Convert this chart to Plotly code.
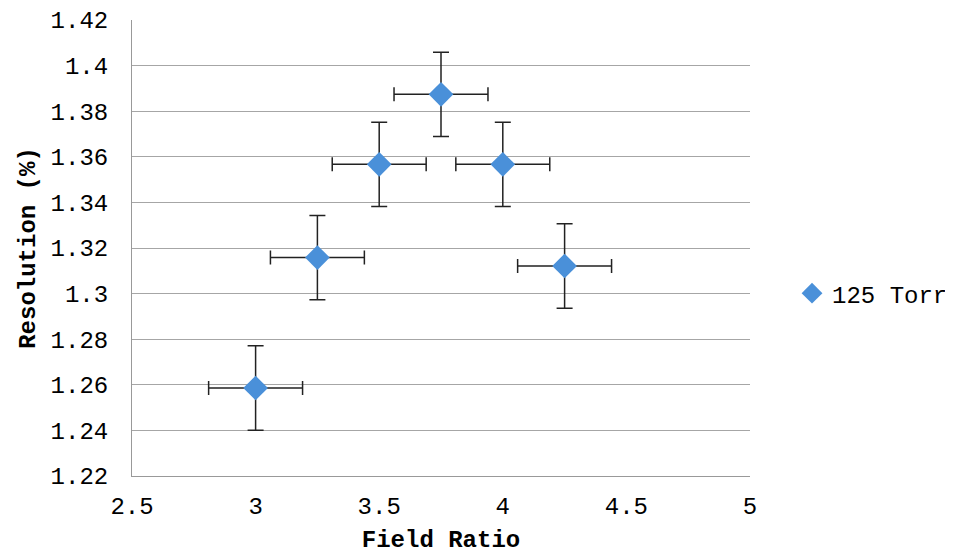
import plotly.graph_objects as go

field_ratio = [3.0, 3.25, 3.5, 3.75, 4.0, 4.25]
resolution = [1.2586, 1.3158, 1.3567, 1.3874, 1.3567, 1.3121]
x_err = [0.19, 0.19, 0.19, 0.19, 0.19, 0.19]
y_err = [0.0185, 0.0185, 0.0185, 0.0185, 0.0185, 0.0185]
series_name = "125 Torr"

FONT = "Liberation Mono, Courier New, monospace"

fig = go.Figure()
fig.add_trace(go.Scatter(
    x=field_ratio, y=resolution, mode="markers", name=series_name,
    marker=dict(symbol="diamond", size=19, color="#4A90D9",
                line=dict(width=0)),
    error_x=dict(type="data", array=x_err, visible=True, color="#222222",
                 thickness=1.5, width=7),
    error_y=dict(type="data", array=y_err, visible=True, color="#222222",
                 thickness=1.5, width=8),
))

fig.update_layout(
    width=945, height=546,
    margin=dict(l=124, r=203, t=12, b=78, autoexpand=False),
    paper_bgcolor="white", plot_bgcolor="white",
    font=dict(family=FONT, size=24, color="black"),
    showlegend=True,
    legend=dict(x=1.068, xanchor="left", y=0.40, yanchor="middle",
                xref="paper", font=dict(size=24), itemwidth=30,
                bgcolor="rgba(0,0,0,0)"),
    xaxis=dict(range=[2.5, 5], dtick=0.5, tick0=2.5, showgrid=False,
               showline=True, linecolor="#999999", linewidth=1,
               ticks="outside", ticklen=8, tickcolor="rgba(0,0,0,0)",
               zeroline=False, automargin=False,
               title=dict(text="<b>Field Ratio</b>", font=dict(size=24),
                          standoff=12)),
    yaxis=dict(range=[1.22, 1.42], dtick=0.02, tick0=1.22, showgrid=True,
               gridcolor="#A6A6A6", gridwidth=1,
               showline=True, linecolor="#999999", linewidth=1,
               ticks="outside", ticklen=18, tickcolor="rgba(0,0,0,0)",
               zeroline=False, automargin=False,
               title=dict(text="<b>Resolution (%)</b>", font=dict(size=24),
                          standoff=8)),
)

fig.write_html("out.html")
